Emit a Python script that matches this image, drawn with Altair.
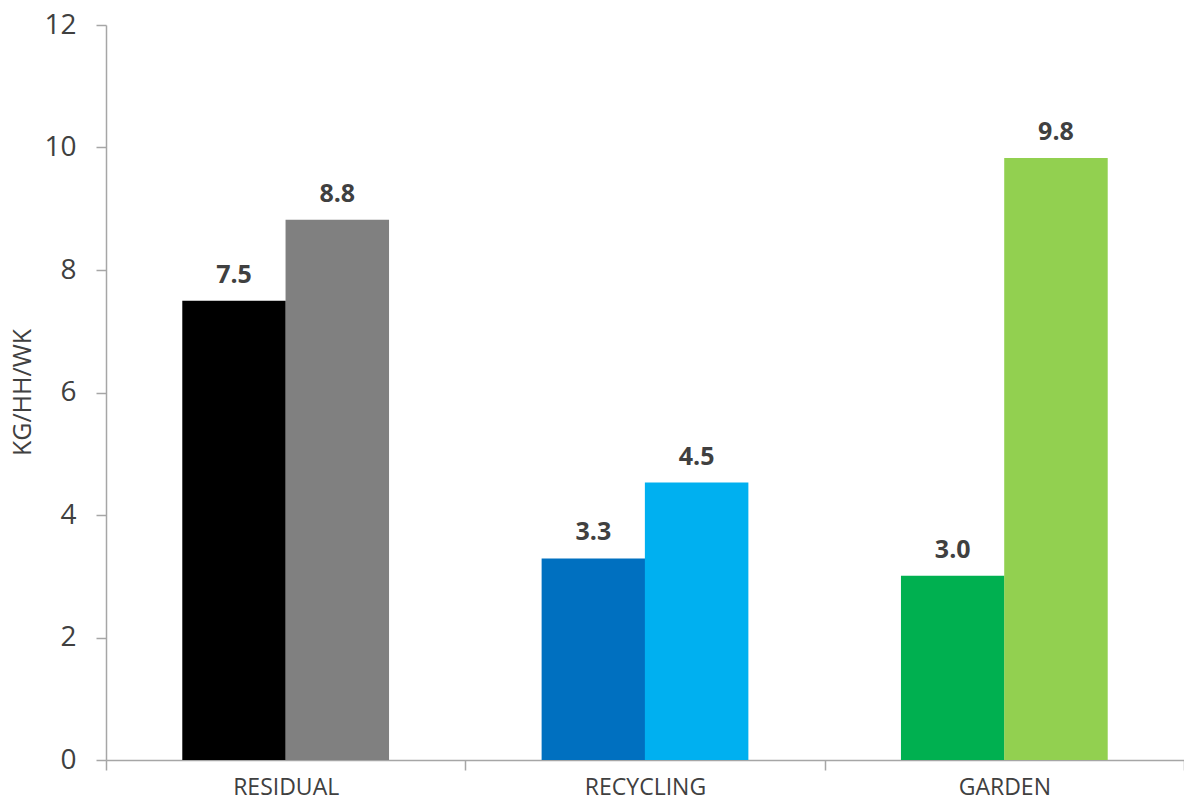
import altair as alt
import pandas as pd

categories = ["RESIDUAL", "RESIDUAL", "RECYCLING", "RECYCLING", "GARDEN", "GARDEN"]
series = ["A", "B", "A", "B", "A", "B"]
values = [7.5, 8.82, 3.29, 4.53, 3.01, 9.83]
labels = ["7.5", "8.8", "3.3", "4.5", "3.0", "9.8"]
keys = ["RES-A", "RES-B", "REC-A", "REC-B", "GAR-A", "GAR-B"]
colors = ["#000000", "#808080", "#0070C0", "#00B0F0", "#00B050", "#92D050"]
cat_order = ["RESIDUAL", "RECYCLING", "GARDEN"]
y_ticks = [0, 2, 4, 6, 8, 10, 12]

df = pd.DataFrame({"cat": categories, "series": series, "value": values,
                   "label": labels, "key": keys})

FONT = "Open Sans"

x = alt.X("cat:N", sort=cat_order, title=None,
          scale=alt.Scale(paddingInner=0, paddingOuter=0),
          axis=alt.Axis(labelAngle=0, tickBand="extent", domainColor="#A6A6A6",
                        tickColor="#A6A6A6", tickSize=10, domainWidth=1.5, tickWidth=1.5,
                        labelFont=FONT, labelFontSize=23, labelColor="#404040",
                        labelPadding=6))
xo = alt.XOffset("series:N", scale=alt.Scale(paddingOuter=0.74, paddingInner=0))
y = alt.Y("value:Q", title="KG/HH/WK",
          scale=alt.Scale(domain=[0, 12], nice=False),
          axis=alt.Axis(values=y_ticks, grid=False, domainColor="#A6A6A6",
                        tickColor="#A6A6A6", tickSize=10, domainWidth=1.5, tickWidth=1.5,
                        labelFont=FONT, labelFontSize=28, labelColor="#404040",
                        labelPadding=20, titleFont=FONT, titleFontSize=25,
                        titleFontWeight="normal", titleColor="#404040",
                        titleX=-84, titleY=367, titleAngle=270,
                        titleAlign="center", titleBaseline="middle"))

bars = alt.Chart(df).mark_bar(size=103.5).encode(
    x=x, xOffset=xo, y=y,
    color=alt.Color("key:N", scale=alt.Scale(domain=keys, range=colors), legend=None),
)
text = alt.Chart(df).mark_text(baseline="bottom", dy=-13, font=FONT, fontSize=25,
                               fontWeight="bold", color="#404040").encode(
    x=x, xOffset=xo, y=y, text="label:N")

chart = alt.layer(bars, text).properties(
    width=1078, height=735,
    autosize=alt.AutoSizeParams(type="none"),
    padding={"left": 98, "top": 17, "right": 0, "bottom": 38},
).configure_view(stroke=None)

chart.save("out.html", embed_options={"renderer": "svg", "actions": False})
